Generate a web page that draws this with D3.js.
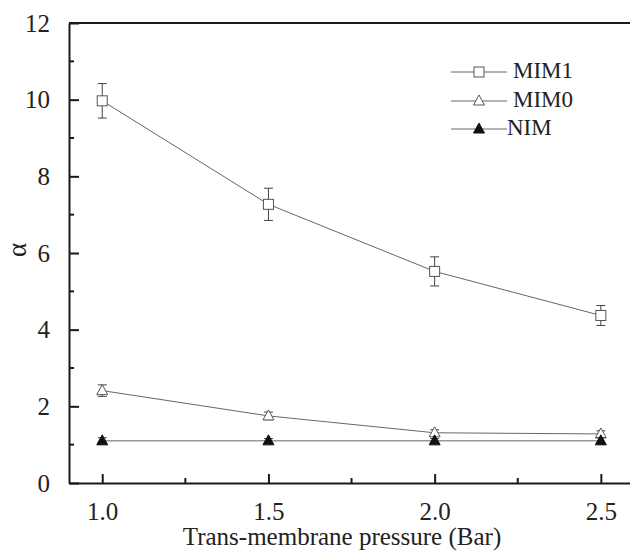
<!DOCTYPE html>
<html>
<head>
<meta charset="utf-8">
<script src="https://cdn.jsdelivr.net/npm/d3@7"></script>
<style>
  html, body { margin: 0; padding: 0; background: #fff; }
  svg { display: block; }
  text { font-family: "Liberation Serif", "Times New Roman", serif; fill: #222; }
</style>
</head>
<body>
<svg id="chart" width="630" height="551"></svg>
<script>
// Separation factor vs trans-membrane pressure
const pressures = [1.0, 1.5, 2.0, 2.5];
const mim1 = [9.97, 7.27, 5.52, 4.37];
const mim1Err = [0.45, 0.42, 0.38, 0.26];
const mim0 = [2.41, 1.75, 1.31, 1.28];
const mim0Err = [0.15, 0.1, 0.08, 0.08];
const nim = [1.1, 1.1, 1.1, 1.1];
const nimErr = [0.08, 0.06, 0.06, 0.08];
const seriesNames = ["MIM1", "MIM0", "NIM"];
const xTicks = [1.0, 1.5, 2.0, 2.5];
const yTicks = [0, 2, 4, 6, 8, 10, 12];

const svg = d3.select("#chart");
const plotLeft = 69, plotTop = 23, plotBottom = 483;
const x = d3.scaleLinear().domain([0.9, 2.6]).range([plotLeft, plotLeft + 1.7 * 332.4]);
const y = d3.scaleLinear().domain([0, 12]).range([plotBottom, plotTop]);

const axisColor = "#1a1a1a";
const axisWidth = 2;

// frame top line
svg.append("line")
  .attr("x1", plotLeft).attr("x2", x(2.6)).attr("y1", plotTop).attr("y2", plotTop)
  .attr("stroke", axisColor).attr("stroke-width", axisWidth);

// left axis (ticks point inward)
const yAxis = svg.append("g").attr("transform", `translate(${plotLeft},0)`)
  .call(d3.axisLeft(y).tickValues(yTicks).tickSizeInner(-10).tickSizeOuter(0)
        .tickFormat(d3.format("d")).tickPadding(19));
yAxis.select(".domain").attr("stroke", axisColor).attr("stroke-width", axisWidth);
yAxis.selectAll(".tick line").attr("stroke", axisColor).attr("stroke-width", axisWidth);
yAxis.selectAll(".tick text").attr("font-size", 25)
  .style("font-family", "Liberation Serif").attr("fill", "#222");
// minor y ticks
svg.append("g").selectAll("line").data(d3.range(1, 12, 2)).join("line")
  .attr("x1", plotLeft).attr("x2", plotLeft + 5).attr("y1", d => y(d)).attr("y2", d => y(d))
  .attr("stroke", axisColor).attr("stroke-width", axisWidth);

// bottom axis (ticks point inward)
const xAxis = svg.append("g").attr("transform", `translate(0,${plotBottom})`)
  .call(d3.axisBottom(x).tickValues(xTicks).tickSizeInner(-9).tickSizeOuter(0)
        .tickFormat(d3.format(".1f")).tickPadding(19));
xAxis.select(".domain").attr("stroke", axisColor).attr("stroke-width", axisWidth);
xAxis.selectAll(".tick line").attr("stroke", axisColor).attr("stroke-width", axisWidth);
xAxis.selectAll(".tick text").attr("font-size", 25)
  .style("font-family", "Liberation Serif").attr("fill", "#222");
// minor x ticks
svg.append("g").selectAll("line").data([1.25, 1.75, 2.25]).join("line")
  .attr("x1", d => x(d)).attr("x2", d => x(d)).attr("y1", plotBottom).attr("y2", plotBottom - 5)
  .attr("stroke", axisColor).attr("stroke-width", axisWidth);

// axis titles
svg.append("text").attr("x", 342).attr("y", 545).attr("text-anchor", "middle")
  .attr("font-size", 25).text("Trans-membrane pressure (Bar)");
svg.append("text").attr("transform", "translate(26,250) rotate(-90)")
  .attr("text-anchor", "middle").attr("font-size", 27).text("α");

// data series
const lineColor = "#666";
const markColor = "#555";
const line = d3.line().x(d => x(d.p)).y(d => y(d.v));

function pts(vals, errs) {
  return pressures.map((p, i) => ({ p, v: vals[i], e: errs[i] }));
}

const triPath = (cx, cy) => `M${cx},${cy - 6}L${cx + 5.5},${cy + 4}L${cx - 5.5},${cy + 4}Z`;

function drawSeries(data, kind) {
  const g = svg.append("g");
  g.append("path").datum(data).attr("d", line)
    .attr("fill", "none").attr("stroke", lineColor).attr("stroke-width", 1);
  // error bars
  const eb = g.selectAll("g.eb").data(data).join("g");
  eb.append("line").attr("x1", d => x(d.p)).attr("x2", d => x(d.p))
    .attr("y1", d => y(d.v - d.e)).attr("y2", d => y(d.v + d.e))
    .attr("stroke", "#444").attr("stroke-width", 1);
  [-1, 1].forEach(s => {
    eb.append("line").attr("x1", d => x(d.p) - 4.5).attr("x2", d => x(d.p) + 4.5)
      .attr("y1", d => y(d.v + s * d.e)).attr("y2", d => y(d.v + s * d.e))
      .attr("stroke", "#444").attr("stroke-width", 1);
  });
  if (kind === "square") {
    g.selectAll("rect").data(data).join("rect")
      .attr("x", d => x(d.p) - 5).attr("y", d => y(d.v) - 5)
      .attr("width", 10).attr("height", 10)
      .attr("fill", "#fff").attr("stroke", markColor).attr("stroke-width", 1);
  } else {
    g.selectAll("path.m").data(data).join("path").attr("class", "m")
      .attr("d", d => triPath(x(d.p), y(d.v)))
      .attr("fill", kind === "tri" ? "#fff" : "#111")
      .attr("stroke", kind === "tri" ? markColor : "#111").attr("stroke-width", 1);
  }
}

drawSeries(pts(mim1, mim1Err), "square");
drawSeries(pts(mim0, mim0Err), "tri");
drawSeries(pts(nim, nimErr), "filled");

// legend
const legRows = [72, 101, 129];
const legKinds = ["square", "tri", "filled"];
const textX = [513, 513, 507];
seriesNames.forEach((name, i) => {
  const ly = legRows[i];
  svg.append("line").attr("x1", 451).attr("x2", 507).attr("y1", ly).attr("y2", ly)
    .attr("stroke", lineColor).attr("stroke-width", 1);
  if (legKinds[i] === "square") {
    svg.append("rect").attr("x", 474).attr("y", ly - 5).attr("width", 10).attr("height", 10)
      .attr("fill", "#fff").attr("stroke", markColor);
  } else {
    svg.append("path").attr("d", triPath(479, ly))
      .attr("fill", legKinds[i] === "tri" ? "#fff" : "#111")
      .attr("stroke", legKinds[i] === "tri" ? markColor : "#111");
  }
  svg.append("text").attr("x", textX[i]).attr("y", ly + 6).attr("font-size", 23).text(name);
});
</script>
</body>
</html>
